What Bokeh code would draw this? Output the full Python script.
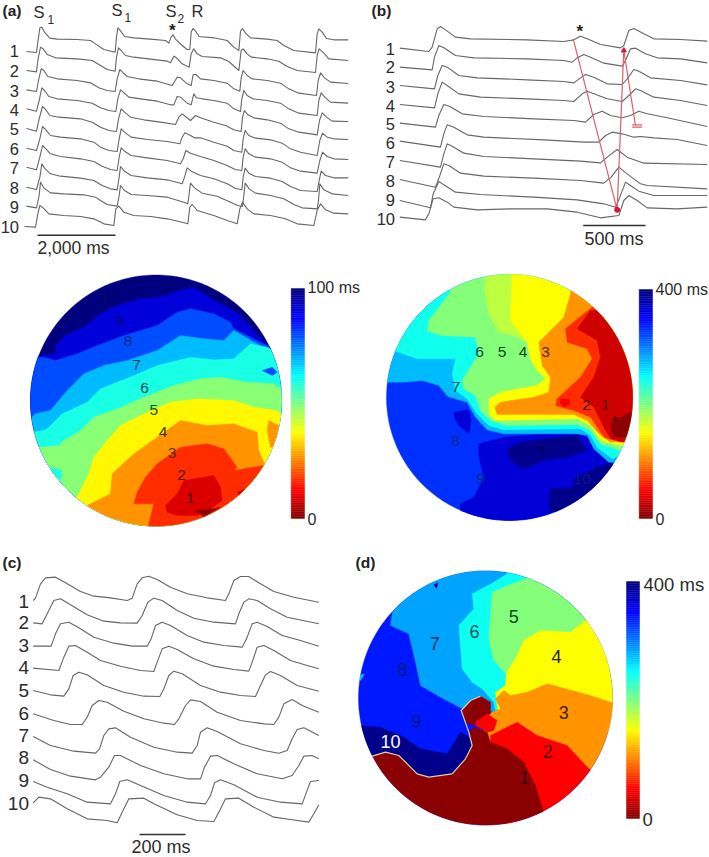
import numpy as np
from bokeh.plotting import figure
from bokeh.models import Range1d, LinearColorMapper, ColumnDataSource
from bokeh.core.properties import value
from bokeh.embed import file_html
from bokeh.resources import INLINE

# ---- voltage traces (sweep position, trace height) ----
TRACES_A = [
 [(78,153),(108,156),(112,125),(118,82),(124,80),(132,95),(148,113),(170,116),(230,117),(270,120),(285,130),(310,147),(344,155),(348,110),(352,82),(358,88),(372,108),(400,112),(450,116),(495,120),(505,128),(512,110),(518,103),(524,115),(545,135),(560,147),(568,147),(572,95),(577,84),(584,90),(596,108),(640,112),(680,120),(700,140),(715,150),(720,92),(726,84),(735,98),(750,112),(800,116),(830,120),(850,135),(880,150),(945,157),(950,100),(955,85),(965,95),(978,114),(1000,118),(1043,118)],
 [(78,210),(108,214),(112,180),(120,140),(128,145),(140,162),(165,172),(230,175),(275,180),(300,195),(320,207),(344,212),(348,170),(354,142),(362,150),(375,165),(400,170),(450,176),(500,182),(510,187),(520,167),(528,172),(545,190),(566,200),(572,160),(580,145),(590,160),(605,168),(660,172),(685,183),(715,210),(722,150),(728,145),(740,160),(752,170),(800,175),(835,182),(860,198),(890,210),(945,216),(950,165),(956,145),(970,158),(985,175),(1043,180)],
 [(78,268),(108,273),(114,240),(122,205),(130,210),(142,228),(170,235),(230,240),(270,247),(295,262),(320,270),(344,273),(350,235),(358,207),(366,215),(380,228),(420,236),(470,242),(505,252),(515,255),(530,230),(540,232),(560,250),(572,255),(578,222),(586,222),(600,235),(640,240),(680,248),(700,265),(718,272),(722,232),(728,210),(740,225),(755,235),(800,240),(840,248),(865,265),(895,278),(948,285),(953,240),(960,217),(972,232),(990,245),(1043,249)],
 [(78,325),(108,332),(116,300),(124,262),(132,270),(145,288),(170,295),(230,300),(275,308),(300,322),(325,330),(346,333),(352,295),(360,268),(368,275),(385,290),(420,295),(470,302),(510,313),(520,313),(530,288),(540,290),(560,308),(572,313),(580,280),(588,292),(605,295),(640,300),(680,308),(700,325),(720,333),(724,295),(730,270),(740,285),(757,295),(800,300),(840,308),(865,325),(895,338),(950,345),(955,300),(962,277),(975,292),(990,305),(1043,308)],
 [(78,384),(108,392),(116,355),(126,318),(134,325),(148,345),(175,350),(240,355),(275,365),(300,380),(325,390),(348,393),(354,355),(362,325),(372,335),(390,350),(430,358),(480,365),(525,372),(535,350),(545,340),(555,348),(570,360),(585,345),(600,352),(640,365),(675,375),(700,388),(722,393),(726,350),(732,330),(742,343),(760,352),(800,358),(840,368),(865,385),(895,395),(950,403),(957,360),(965,337),(978,350),(995,362),(1043,363)],
 [(78,443),(108,450),(118,415),(126,378),(136,388),(150,405),(180,410),(240,415),(280,425),(300,440),(325,450),(350,453),(356,415),(362,385),(372,395),(392,410),(440,417),(500,423),(538,430),(545,410),(553,397),(570,405),(582,412),(600,412),(640,425),(680,437),(700,450),(724,455),(728,415),(734,390),(745,405),(765,413),(810,418),(845,428),(870,445),(900,455),(950,465),(958,420),(966,398),(980,410),(1000,415),(1043,417)],
 [(78,500),(108,508),(118,470),(126,435),(136,445),(150,460),(180,468),(240,475),(280,483),(305,497),(330,507),(350,510),(356,470),(362,442),(372,452),(392,465),(440,472),(500,480),(540,490),(548,475),(556,450),(570,458),(600,468),(640,480),(680,495),(704,507),(724,510),(728,470),(734,445),(745,460),(765,470),(810,475),(845,485),(870,502),(900,512),(950,518),(958,480),(966,455),(980,468),(1000,475),(1043,477)],
 [(78,560),(108,567),(118,530),(124,490),(134,505),(150,520),(180,527),(240,533),(280,540),(305,555),(330,565),(350,568),(356,530),(360,498),(372,512),(392,525),(440,532),(500,538),(545,550),(552,530),(560,502),(572,512),(600,525),(640,535),(680,550),(704,563),(724,568),(728,530),(734,503),(745,518),(765,528),(810,533),(845,543),(870,558),(900,570),(950,573),(956,540),(962,512),(975,525),(1000,532),(1043,532)],
 [(78,617),(108,622),(116,585),(120,545),(130,562),(150,577),(190,580),(250,583),(285,590),(300,600),(320,612),(350,617),(356,585),(360,555),(372,570),(392,582),(440,585),(500,590),(550,605),(562,610),(566,580),(570,548),(582,562),(605,578),(650,587),(690,605),(712,615),(726,618),(730,585),(734,548),(746,565),(765,578),(810,585),(850,595),(880,612),(905,622),(950,625),(954,600),(958,550),(970,568),(995,580),(1043,585)],
 [(72,678),(105,680),(112,640),(118,615),(128,622),(145,640),(190,645),(240,648),(280,655),(310,670),(340,675),(346,625),(355,617),(370,635),(400,645),(450,648),(500,655),(545,665),(562,670),(568,620),(575,612),(590,630),(640,645),(680,660),(710,670),(718,625),(726,605),(740,625),(760,640),(810,645),(855,655),(890,670),(940,675),(950,630),(960,610),(975,628),(1000,638),(1043,640)],
]
TRACES_B = [
 [(118,143),(205,153),(215,140),(230,85),(240,78),(255,88),(285,110),(330,115),(500,118),(610,123),(640,118),(660,107),(680,115),(720,132),(780,142),(790,135),(805,90),(820,84),(850,100),(880,115),(960,117),(1040,122)],
 [(118,200),(215,208),(222,170),(235,135),(250,142),(285,165),(340,172),(500,175),(610,180),(635,185),(650,172),(670,162),(690,170),(730,188),(785,197),(795,180),(810,145),(825,143),(855,160),(890,172),(960,175),(1040,187)],
 [(118,255),(222,265),(232,225),(245,195),(260,200),(295,225),(350,232),(500,238),(610,243),(640,247),(660,232),(675,222),(700,230),(740,250),(785,252),(800,235),(820,207),(835,212),(870,232),(960,240),(1040,253)],
 [(118,312),(222,322),(232,280),(245,245),(260,255),(295,280),(360,290),(500,295),(610,300),(640,303),(665,280),(680,272),(700,280),(740,295),(785,303),(805,285),(825,265),(840,270),(880,290),(960,300),(1040,315)],
 [(118,368),(225,380),(235,345),(250,312),(268,318),(305,340),(370,348),(520,355),(640,360),(675,365),(700,342),(725,332),(750,345),(785,352),(810,345),(835,332),(860,340),(920,352),(1040,378)],
 [(118,422),(240,440),(250,400),(260,373),(280,380),(320,403),(370,410),(550,418),(670,425),(715,425),(735,405),(755,395),(785,400),(820,410),(840,408),(880,412),(950,417),(1040,435)],
 [(118,480),(240,500),(250,460),(260,430),(275,437),(310,458),(370,468),(520,475),(660,482),(720,487),(740,470),(770,447),(800,470),(850,488),(1040,492)],
 [(118,537),(225,560),(238,525),(250,490),(265,495),(300,518),(370,527),(520,533),(660,540),(730,548),(752,530),(775,500),(800,520),(840,550),(860,555),(1040,565)],
 [(118,600),(210,622),(218,580),(235,543),(250,553),(285,575),(360,582),(520,590),(650,598),(730,610),(765,620),(778,590),(795,545),(810,555),(835,572),(880,585),(1040,585)],
 [(118,650),(195,658),(205,640),(218,595),(235,592),(260,605),(280,620),(350,628),(450,625),(560,625),(650,635),(720,652),(775,645),(790,600),(805,585),(830,600),(860,622),(950,625),(1040,620)],
]
TRACES_C = [
 [(98,165),(105,158),(120,115),(135,97),(165,95),(195,112),(240,138),(280,152),(330,157),(380,165),(395,158),(410,115),(425,97),(445,92),(470,102),(510,125),(560,145),(620,157),(675,165),(685,145),(700,105),(720,93),(745,93),(775,112),(820,138),(880,155),(955,170)],
 [(98,232),(125,235),(145,195),(160,165),(180,160),(210,178),(260,208),(310,227),(360,232),(410,233),(425,210),(442,170),(460,158),(485,165),(530,195),(580,218),(640,230),(705,235),(715,205),(730,170),(745,160),(770,165),(810,190),(860,215),(955,235)],
 [(98,302),(152,302),(165,265),(180,235),(205,230),(235,247),(280,275),(340,293),(395,302),(440,302),(452,280),(465,240),(485,230),(510,240),(560,270),(610,290),(670,300),(725,305),(738,280),(755,235),(770,230),(800,243),(845,270),(900,285),(955,302)],
 [(98,368),(175,375),(190,335),(205,302),(225,300),(260,320),(300,345),(360,362),(420,375),(460,378),(470,350),(485,310),(505,302),(530,312),(580,340),(640,362),(700,372),(745,377),(755,350),(770,305),(790,300),(820,315),(870,345),(920,360),(955,370)],
 [(98,435),(150,448),(190,452),(205,430),(218,390),(235,380),(260,388),(310,420),(370,440),(430,452),(478,453),(490,430),(505,390),(520,377),(545,385),(600,420),(660,440),(720,450),(765,453),(780,420),(795,388),(810,378),(840,390),(890,420),(955,437)],
 [(98,505),(160,525),(210,537),(245,537),(260,515),(275,480),(295,465),(320,470),(370,497),(430,520),(490,533),(522,537),(535,520),(555,480),(570,463),(600,468),(650,500),(720,525),(790,535),(820,537),(835,515),(850,475),(875,462),(905,480),(955,500)],
 [(98,573),(150,600),(220,617),(285,623),(297,610),(310,570),(325,550),(345,547),(390,575),(460,605),(530,620),(575,623),(590,600),(600,560),(620,547),(650,558),(720,595),(790,615),(835,623),(860,615),(875,580),(890,552),(910,547),(955,570)],
 [(98,643),(150,672),(210,692),(285,703),(300,695),(325,665),(342,630),(360,630),(420,660),(490,685),(560,700),(600,700),(612,665),(630,632),(650,630),(700,655),(770,685),(845,700),(875,690),(895,660),(910,632),(935,630),(955,640)],
 [(98,708),(140,725),(200,745),(260,770),(330,775),(345,745),(358,708),(380,703),(420,720),(490,750),(560,770),(615,775),(630,750),(642,712),(660,703),(700,718),(770,755),(840,770),(905,775),(918,740),(930,708),(955,705)],
 [(98,772),(115,755),(150,760),(200,790),(260,820),(320,825),(350,832),(365,800),(385,760),(430,758),(460,775),(530,808),(590,825),(640,828),(655,800),(675,760),(715,758),(760,785),(820,815),(870,822),(925,830),(940,805),(955,778)],
]
RED_LINES_B = [[(638,115),(770,628)], [(770,628),(790,145)], [(790,150),(825,375)], [(815,373),(845,373)], [(815,380),(845,380)]]

# ---- activation maps: (latency in ms, outline of the region), painted in order ----
MAP_A = [
 (100, [(40,0),(900,0),(900,780),(40,780)]),
 (91, [(60,260),(165,250),(165,225),(195,195),(250,170),(300,130),(350,105),(420,85),(480,80),(540,60),(580,50),(640,90),(690,115),(720,135),(800,225),(880,260),(880,780),(60,780)]),
 (80, [(60,265),(130,260),(165,270),(230,250),(290,225),(370,195),(470,165),(530,125),(570,115),(640,130),(690,155),(700,175),(800,225),(880,260),(880,780),(60,780)]),
 (69, [(60,470),(105,430),(150,420),(200,360),(250,310),(310,285),(380,270),(470,240),(540,195),(610,205),(670,210),(700,180),(770,220),(800,240),(880,280),(880,780),(60,780)]),
 (60, [(60,490),(130,480),(145,470),(185,430),(260,395),(300,355),(400,315),(470,285),(570,260),(640,268),(700,265),(750,220),(800,230),(880,280),(880,780),(60,780)]),
 (49, [(60,520),(120,530),(175,525),(190,510),(240,480),(280,440),(350,415),(430,380),(520,345),(600,325),(660,320),(740,335),(820,340),(880,380),(880,780),(60,780)]),
 (60, [(150,590),(185,600),(180,630),(160,610)]),
 (37, [(150,700),(230,680),(265,610),(280,560),(320,510),(360,465),(440,425),(510,395),(590,385),(700,390),(760,410),(825,420),(880,450),(880,780),(150,780)]),
 (27, [(250,710),(330,670),(335,610),(400,550),(470,500),(540,450),(620,465),(700,460),(770,485),(775,540),(790,575),(880,600),(880,780),(250,780)]),
 (27, [(805,450),(835,465),(880,465),(880,530),(810,530),(800,480)]),
 (17, [(440,780),(460,700),(400,700),(410,665),(435,620),(470,580),(540,530),(620,520),(670,535),(710,590),(700,600),(790,585),(880,600),(880,780)]),
 (9, [(495,705),(530,670),(550,630),(640,615),(660,650),(665,690),(630,715),(590,735),(530,735),(500,725)]),
 (2, [(585,720),(640,715),(660,710),(610,738)]),
 (9, [(710,665),(735,655),(735,668),(715,672)]),
 (80, [(785,300),(815,290),(830,305),(815,315)]),
]
MAP_B = [
 (330, [(40,0),(900,0),(900,780),(40,780)]),
 (365, [(355,520),(430,500),(560,490),(650,490),(690,500),(700,540),(760,575),(790,600),(600,760),(300,760),(300,700),(340,680),(370,620),(355,560)]),
 (395, [(440,535),(480,515),(560,505),(650,495),(680,540),(620,560),(550,570),(490,595),(450,570)]),
 (395, [(640,625),(700,595),(750,575),(790,610),(600,730),(565,720),(570,655),(640,650)]),
 (365, [(280,425),(325,418),(332,450),(325,490),(295,465),(283,445)]),
 (275, [(40,335),(130,335),(185,330),(235,345),(262,378),(320,395),(345,440),(380,478),(430,490),(650,490),(680,495),(700,535),(745,575),(800,580),(860,400),(860,0),(40,0)]),
 (243, [(70,225),(100,240),(170,265),(285,265),(275,310),(285,360),(320,385),(350,430),(385,465),(430,478),(660,475),(690,495),(710,530),(755,565),(860,520),(860,0),(70,0)]),
 (197, [(270,0),(270,65),(205,150),(200,180),(240,195),(345,200),(355,250),(330,290),(305,330),(310,355),(345,375),(360,420),(390,450),(440,465),(650,462),(690,480),(720,520),(780,540),(860,500),(860,0)]),
 (175, [(375,0),(372,60),(385,130),(415,185),(460,195),(500,215),(530,215),(540,0)]),
 (150, [(455,0),(450,150),(480,190),(500,215),(510,265),(530,300),(555,325),(530,345),(420,365),(385,385),(385,430),(405,450),(650,445),(690,465),(720,510),(780,525),(860,500),(860,0)]),
 (108, [(630,70),(610,140),(535,215),(545,285),(570,320),(565,365),(520,380),(420,395),(403,410),(410,432),(640,432),(680,450),(715,490),(750,515),(860,500),(860,0),(630,0)]),
 (68, [(695,110),(670,130),(615,175),(620,215),(680,235),(695,265),(660,320),(590,385),(585,405),(640,420),(690,440),(730,500),(780,515),(860,500),(860,110)]),
 (32, [(690,120),(650,175),(710,210),(720,260),(700,320),(660,380),(700,410),(730,470),(750,505),(790,515),(860,450),(860,120)]),
 (6, [(750,460),(800,430),(860,410),(860,480),(790,500),(760,500)]),
 (48, [(600,385),(625,385),(630,400),(610,410),(600,400)]),
]
MAP_D = [
 (340, [(20,0),(900,0),(900,900),(20,900)]),
 (285, [(155,205),(150,240),(205,265),(225,350),(240,420),(300,455),(360,487),(470,500),(500,300),(560,40),(155,40)]),
 (245, [(500,85),(460,110),(395,145),(400,190),(355,240),(365,370),(395,410),(425,430),(460,470),(465,497),(480,490),(520,400),(540,200),(600,60),(520,40)]),
 (197, [(555,100),(490,125),(455,140),(445,280),(460,345),(497,385),(800,400),(860,100)]),
 (150, [(497,385),(530,330),(550,285),(600,255),(690,260),(735,225),(900,225),(900,560),(480,560),(465,440),(495,420)]),
 (108, [(465,460),(490,435),(510,450),(560,440),(620,415),(750,450),(810,470),(900,470),(900,680),(745,670),(600,620),(430,600),(430,510),(480,490)]),
 (50, [(450,570),(530,530),(590,570),(680,600),(745,670),(800,720),(700,900),(500,900),(450,590)]),
 (395, [(50,540),(120,545),(190,575),(240,610),(320,625),(360,560),(385,575),(392,600),(375,640),(335,685),(265,695),(230,685),(175,630),(135,620),(95,632),(50,640)]),
 (6, [(50,640),(95,632),(135,620),(175,630),(230,685),(265,695),(335,685),(375,640),(395,600),(385,560),(400,545),(440,560),(450,590),(500,610),(550,650),(585,720),(608,795),(640,900),(50,900)]),
 (6, [(362,495),(390,465),(420,452),(450,470),(450,505),(420,520),(400,540),(375,530)]),
 (50, [(405,530),(440,505),(470,525),(460,555),(440,560),(405,540)]),
 (270, [(50,392),(72,385),(60,405)]),
 (390, [(280,118),(292,112),(288,128)]),
]
EDGE_D = [(95,632),(135,620),(175,630),(230,685),(265,695),(335,685),(375,640),(395,600),(385,560),(362,495),(390,465),(420,452)]

# region numbers: (label, x, y, colour)
NUMS_A = [("10",325,82,"#000a60"),("9",357,150,"#000a70"),("8",383,212,"#0a2a80"),("7",408,282,"#0f3a60"),("6",432,352,"#0a5050"),("5",460,417,"#0a5a20"),("4",488,485,"#403000"),("3",515,547,"#5a2a10"),("2",543,612,"#5a1510"),("1",570,682,"#500000")]
NUMS_B = [("6",357,245,"#0a4a50"),("5",425,245,"#0a4a20"),("4",488,245,"#203a10"),("3",555,245,"#502a10"),("7",287,348,"#0a4a60"),("2",678,402,"#501010"),("1",735,402,"#501010"),("8",285,510,"#0a2a90"),("9",360,625,"#0a2a80"),("10",665,625,"#0a1a90"),("*",762,450,"#200000"),("*",543,540,"#000030")]
NUMS_D = [("5",520,212,"#0a4a20"),("6",402,258,"#0a5060"),("7",283,295,"#103060"),("8",187,373,"#0a1a80"),("4",648,333,"#222200"),("3",670,500,"#402000"),("9",228,527,"#0a1a80"),("2",622,618,"#600000"),("1",552,695,"#400000"),("10",150,588,"#ffffff")]
CHANNEL_LABELS = ["1","2","3","4","5","6","7","8","9","10"]
LABEL_Y_A = [50.7,70,90,109,128.3,148.3,167.7,187.3,206.7,226.7]
LABEL_Y_B = [48.3,66.7,86,105,123.3,142.7,161.3,180.3,199,218.3]
LABEL_Y_C = [600.7,622.3,645,667.3,690,713.3,735,756.7,780,803.3]

W, H = 709, 857
p = figure(width=W, height=H, x_range=Range1d(0, W), y_range=Range1d(H, 0),
           output_backend="svg", toolbar_location=None,
           x_axis_location=None, y_axis_location=None, min_border=0, outline_line_color=None)
p.grid.visible = False

# jet running from dark red (0) up to navy (top of the scale)
t = np.linspace(1, 0, 256)
def _c(a): return np.clip(1.5 - np.abs(4 * t - a), 0, 1)
JET = ["#%02x%02x%02x" % (int(r*255), int(g*255), int(b*255)) for r, g, b in zip(_c(3), _c(2), _c(1))]
m100 = LinearColorMapper(palette=JET, low=0, high=100)
m400 = LinearColorMapper(palette=JET, low=0, high=400)

def clip_to_disc(poly, cx, cy, r, n=240):
    a = np.linspace(0, 2*np.pi, n, endpoint=False)
    clip = list(zip(cx + r*np.cos(a), cy + r*np.sin(a)))
    out = poly
    for i in range(n):
        ax, ay = clip[i]; bx, by = clip[(i+1) % n]
        inside = lambda q: (bx-ax)*(q[1]-ay) - (by-ay)*(q[0]-ax) >= 0
        src, out = out, []
        for j in range(len(src)):
            c, d = src[j], src[(j+1) % len(src)]
            ic, id_ = inside(c), inside(d)
            if ic: out.append(c)
            if ic != id_:
                den = (d[0]-c[0])*(by-ay) - (d[1]-c[1])*(bx-ax)
                u = ((ax-c[0])*(by-ay) - (ay-c[1])*(bx-ax)) / den
                out.append((c[0]+u*(d[0]-c[0]), c[1]+u*(d[1]-c[1])))
        if not out: break
    return out

def draw_map(regions, ox, oy, cx, cy, r, mapper):
    xs, ys, vs = [], [], []
    for v, poly in regions:
        pts = clip_to_disc([(x/3+ox, y/3+oy) for x, y in poly], cx, cy, r)
        if pts:
            xs.append([q[0] for q in pts]); ys.append([q[1] for q in pts]); vs.append(v)
    src = ColumnDataSource(dict(xs=xs, ys=ys, v=vs))
    p.patches("xs", "ys", source=src, fill_color={"field": "v", "transform": mapper}, line_color={"field": "v", "transform": mapper}, line_width=0.4)

def colorbar(x0, x1, y_top, y_bot, high, mapper):
    levels = np.linspace(0, high, 129)
    frac = (levels - 0) / high
    y = y_bot + (y_top - y_bot) * frac
    src = ColumnDataSource(dict(l=[x0]*128, r=[x1]*128, t=y[1:], b=y[:-1], v=(levels[1:]+levels[:-1])/2))
    c = {"field": "v", "transform": mapper}
    p.quad(left="l", right="r", top="t", bottom="b", source=src, fill_color=c, line_color=c, line_width=0.4)

def traces(sets, ox, oy):
    xs = [[x/3+ox for x, _ in tr] for tr in sets]
    ys = [[y/3+oy for _, y in tr] for tr in sets]
    p.multi_line(xs, ys, line_color="#666666", line_width=1.1, line_join="round")

def label(x, y, s, size, color="#2b2b2b", align="left", bold=False):
    p.text([x], [y], text=[s], text_font=value("Liberation Sans"), text_font_size=f"{size}px",
           text_color=color, text_align=align, text_baseline="middle",
           text_font_style="bold" if bold else "normal")

draw_map(MAP_A, 0, 270, 155.5, 400, 125.5, m100)
draw_map(MAP_B, 360, 270, 509, 397, 123, m400)
draw_map(MAP_D, 340, 545, 485, 697.5, 127, m400)
colorbar(290.7, 304, 288, 518, 100, m100)
colorbar(638.7, 652, 289, 518, 400, m400)
colorbar(626, 639, 581, 818, 400, m400)
p.multi_line([[x/3+340 for x, _ in EDGE_D]], [[y/3+545 for _, y in EDGE_D]], line_color="#d8d0a8", line_width=1.2)

traces(TRACES_A, 0, 0)
traces(TRACES_B, 360, 0)
traces(TRACES_C, 0, 545)
for seg in RED_LINES_B:
    p.line([x/3+360 for x, _ in seg], [y/3 for _, y in seg], line_color="#d9606a", line_width=1.2)
p.scatter([770/3+360], [628/3], marker="circle", size=5, color="#e01030")
p.scatter([790/3+360], [150/3], marker="triangle", size=5, color="#e01030")

# scale bars
p.segment([37, 582.7, 139], [234.7, 225, 834], [115, 645, 185], [234.7, 225, 834], line_color="#333333", line_width=1.6)

# panel letters
label(2, 10, "(a)", 15.5, "#222222", bold=True)
label(371, 10, "(b)", 15.5, "#222222", bold=True)
label(2, 561.7, "(c)", 15.5, "#222222", bold=True)
label(355, 561.7, "(d)", 15.5, "#222222", bold=True)

# stimulus marks
for xs_, xsub, ys_, sub, ysub in [(33, 47, 11, "1", 19), (111, 124, 9, "1", 17), (165, 177, 10, "2", 17.5)]:
    label(xs_, ys_, "S", 16.5)
    label(xsub, ysub, sub, 12)
label(191, 10, "R", 16.5)
label(171.7, 30, "*", 17, "#222222", align="center", bold=True)
label(579.3, 31, "*", 17, "#222222", align="center", bold=True)

# channel numbers
for s, y in zip(CHANNEL_LABELS, LABEL_Y_A): label(18.5, y, s, 16.5, align="right")
for s, y in zip(CHANNEL_LABELS, LABEL_Y_B): label(394.5, y, s, 16.5, align="right")
for s, y in zip(CHANNEL_LABELS, LABEL_Y_C): label(28.5, y, s, 19, align="right")

# scale bar captions
label(37, 247.5, "2,000 ms", 17.5)
label(584, 238, "500 ms", 18)
label(131, 846.5, "200 ms", 18)

# colour-bar captions
label(307, 287, "100 ms", 16)
label(307, 518, "0", 16)
label(655, 289, "400 ms", 16)
label(655, 518, "0", 16)
label(643, 584, "400 ms", 18.5)
label(642, 819, "0", 18.5)

# numbers on the maps
for s, x, y, c in NUMS_A: label(x/3, y/3+270, s, 15.5, c, align="center")
for s, x, y, c in NUMS_B: label(x/3+360, y/3+270, s, 15.5, c, align="center")
for s, x, y, c in NUMS_D: label(x/3+340, y/3+545, s, 18, c, align="center")

open("out.html", "w").write(file_html(p, INLINE))
